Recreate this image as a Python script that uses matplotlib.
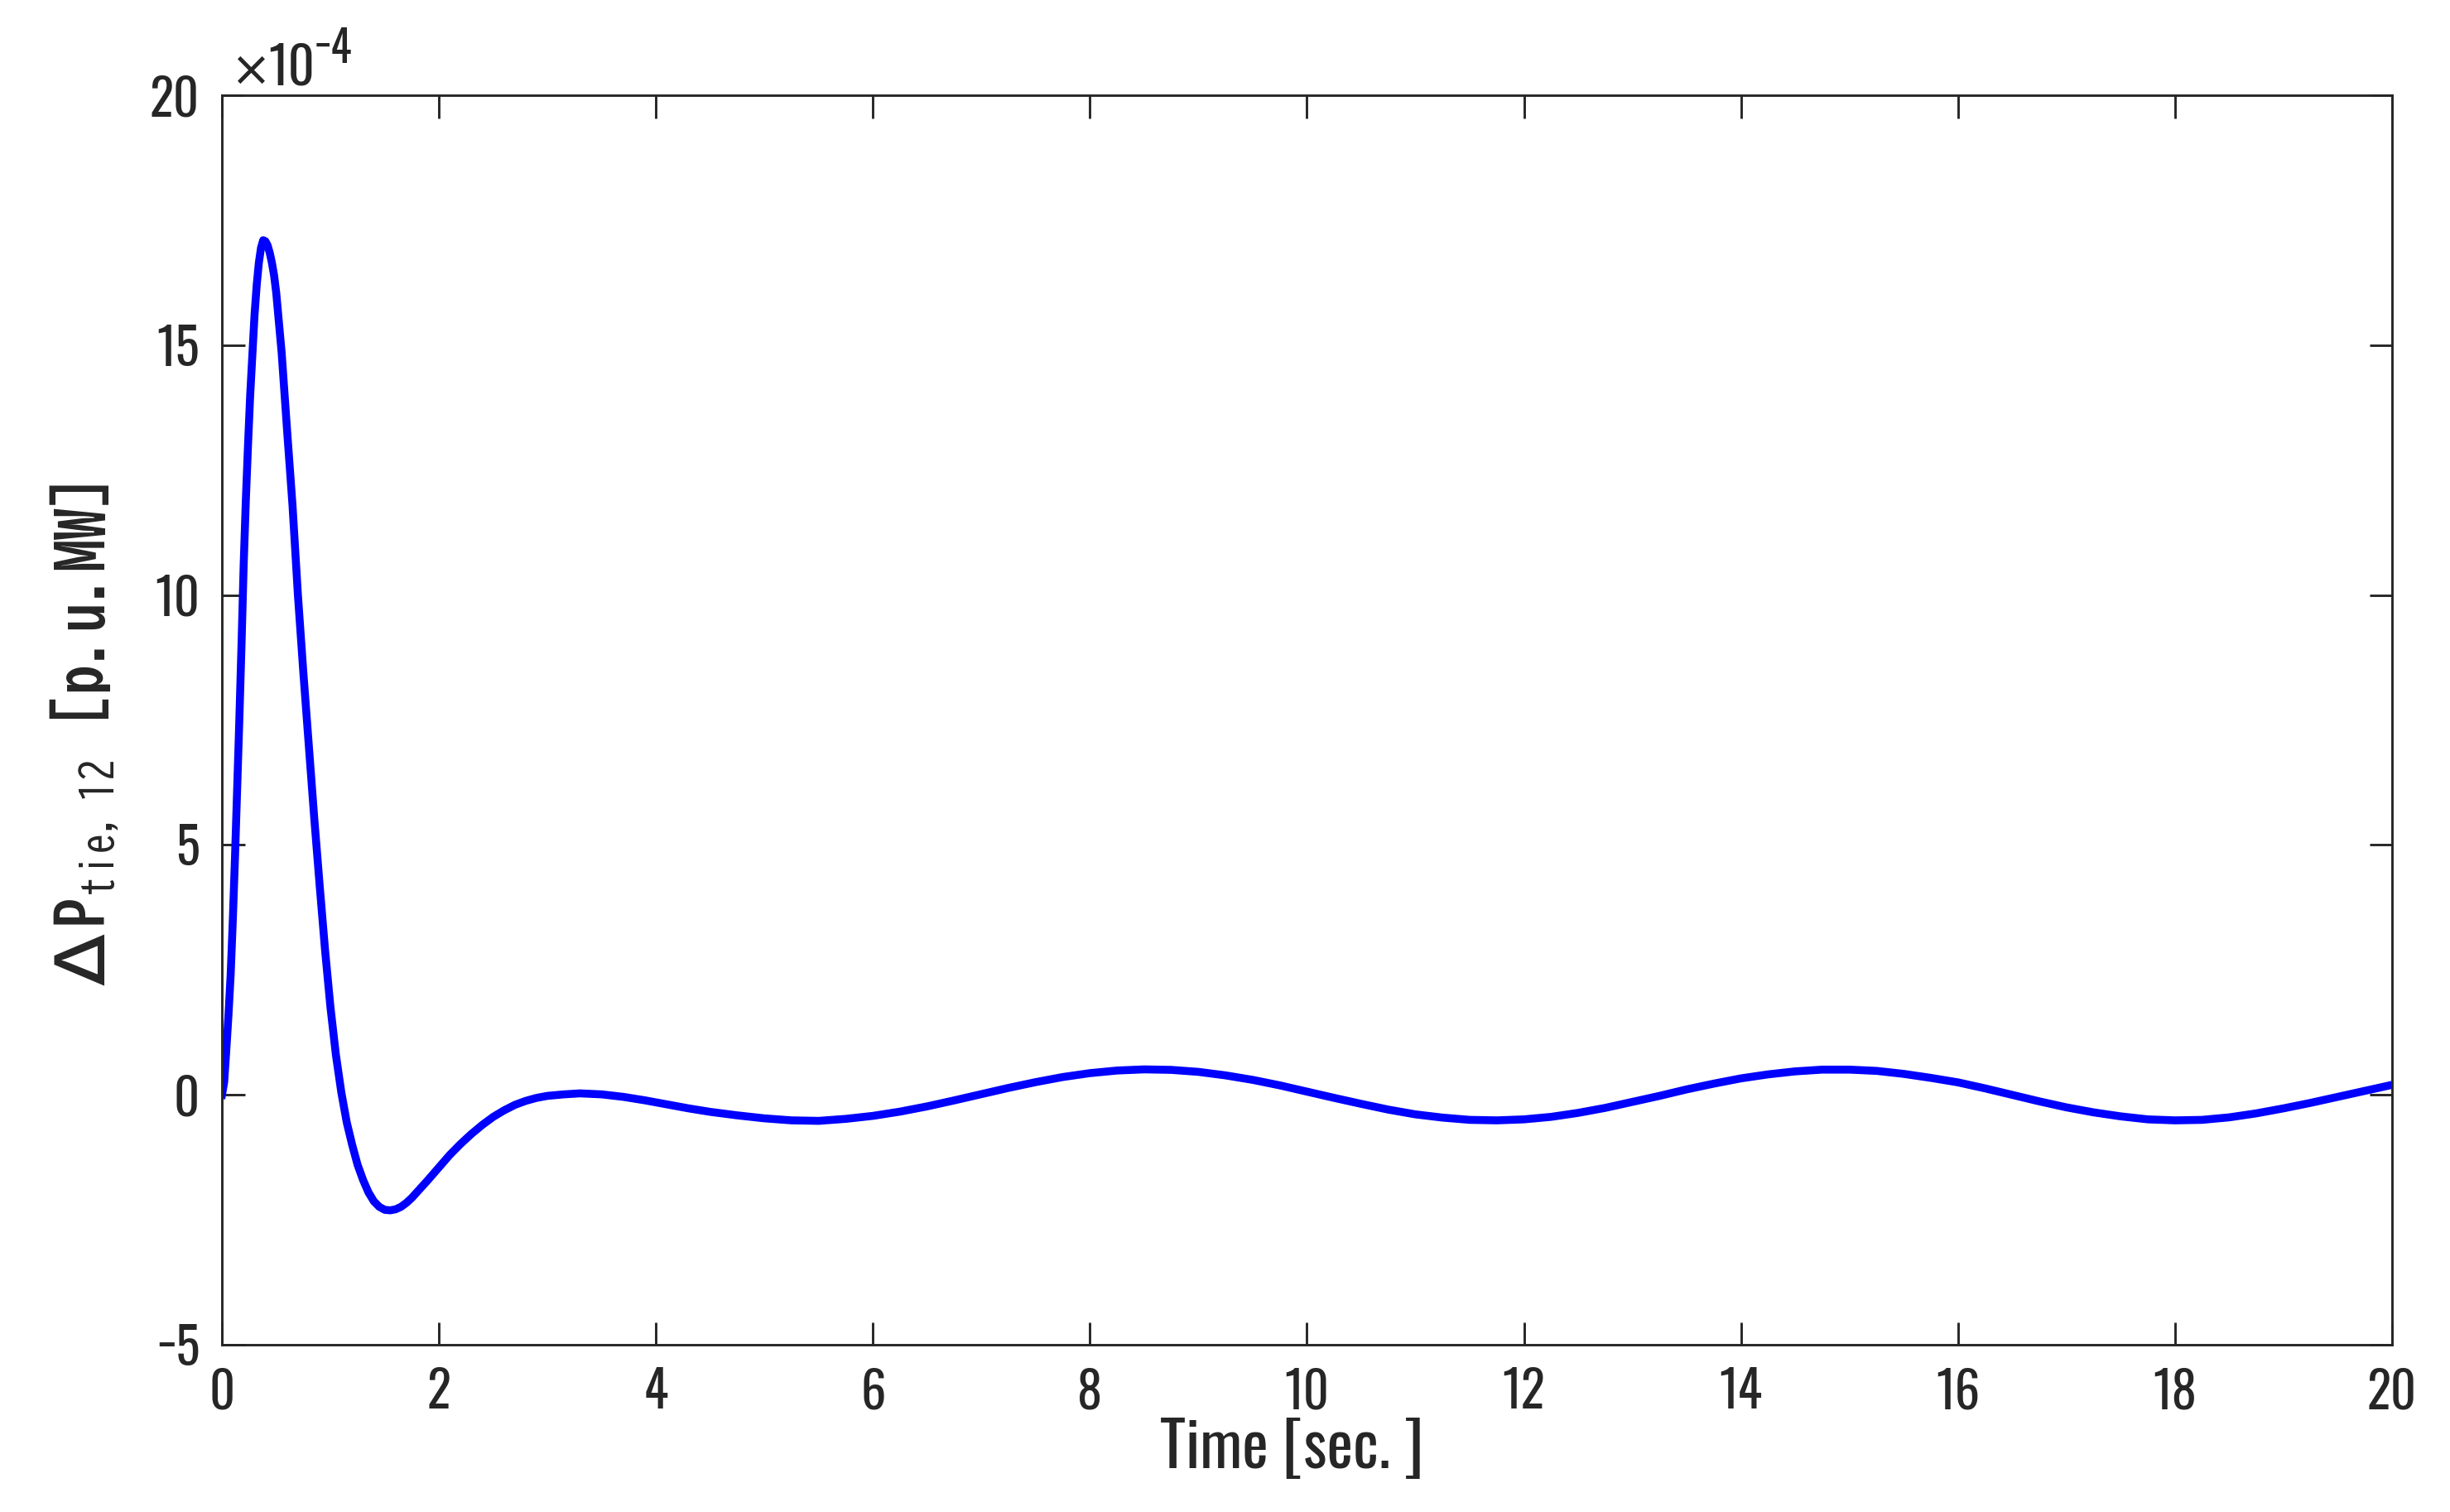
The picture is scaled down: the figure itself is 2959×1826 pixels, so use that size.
import matplotlib
matplotlib.use("Agg")
import matplotlib.pyplot as plt

# tie-line power deviation (units of 1e-4 p.u.MW)
time_s = [0.00, 0.02, 0.04, 0.06, 0.08, 0.10, 0.12, 0.14, 0.16, 0.18,
          0.20, 0.22, 0.24, 0.26, 0.28, 0.30, 0.32, 0.34, 0.36, 0.38,
          0.40, 0.42, 0.44, 0.46, 0.48, 0.50, 0.55, 0.60, 0.65, 0.70,
          0.75, 0.80, 0.85, 0.90, 0.95, 1.00, 1.05, 1.10, 1.15, 1.20,
          1.25, 1.30, 1.35, 1.40, 1.45, 1.50, 1.55, 1.60, 1.65, 1.70,
          1.75, 1.80, 1.90, 2.00, 2.10, 2.20, 2.30, 2.40, 2.50, 2.60,
          2.70, 2.80, 2.90, 3.00, 3.15, 3.30, 3.50, 3.70, 3.90, 4.10,
          4.30, 4.50, 4.75, 5.00, 5.25, 5.50, 5.75, 6.00, 6.25, 6.50,
          6.75, 7.00, 7.25, 7.50, 7.75, 8.00, 8.25, 8.50, 8.75, 9.00,
          9.25, 9.50, 9.75, 10.00, 10.25, 10.50, 10.75, 11.00, 11.25, 11.50,
          11.75, 12.00, 12.25, 12.50, 12.75, 13.00, 13.25, 13.50, 13.75, 14.00,
          14.25, 14.50, 14.75, 15.00, 15.25, 15.50, 15.75, 16.00, 16.25, 16.50,
          16.75, 17.00, 17.25, 17.50, 17.75, 18.00, 18.25, 18.50, 18.75, 19.00,
          19.25, 19.50, 19.75, 20.00]
dp_tie = [0.00, 0.25, 0.90, 1.60, 2.40, 3.50, 4.75, 6.10, 7.50, 9.00,
          10.60, 11.90, 13.00, 14.00, 14.80, 15.60, 16.20, 16.65, 16.95, 17.10,
          17.08, 17.00, 16.85, 16.65, 16.40, 16.05, 14.85, 13.30, 11.80, 10.00,
          8.45, 7.00, 5.55, 4.20, 2.90, 1.75, 0.80, 0.05, -0.55, -1.00,
          -1.40, -1.70, -1.95, -2.13, -2.24, -2.30, -2.31, -2.29, -2.24, -2.16,
          -2.06, -1.94, -1.70, -1.45, -1.20, -0.98, -0.78, -0.60, -0.44, -0.31,
          -0.20, -0.12, -0.06, -0.02, 0.01, 0.03, 0.01, -0.04, -0.11, -0.19,
          -0.27, -0.34, -0.41, -0.47, -0.51, -0.52, -0.48, -0.42, -0.335, -0.23,
          -0.11, 0.015, 0.14, 0.255, 0.357, 0.435, 0.487, 0.51, 0.50, 0.46,
          0.39, 0.30, 0.19, 0.065, -0.06, -0.18, -0.295, -0.39, -0.455, -0.50,
          -0.51, -0.49, -0.44, -0.36, -0.26, -0.14, -0.02, 0.11, 0.225, 0.33,
          0.41, 0.47, 0.505, 0.505, 0.48, 0.42, 0.34, 0.25, 0.13, 0.00,
          -0.13, -0.25, -0.35, -0.43, -0.49, -0.51, -0.50, -0.45, -0.37, -0.27,
          -0.16, -0.04, 0.08, 0.20]

x_ticks = [0, 2, 4, 6, 8, 10, 12, 14, 16, 18, 20]
y_ticks = [-5, 0, 5, 10, 15, 20]

dark = '#262626'
narrow = ['Oswald', 'DejaVu Sans']
gothic = ['BIZ UDGothic', 'DejaVu Sans']

plt.rcParams['mathtext.fontset'] = 'custom'
plt.rcParams['mathtext.rm'] = 'BIZ UDGothic'

fig = plt.figure(figsize=(2959 / 300, 1826 / 300), dpi=300)
ax = fig.add_axes([0.0906, 0.1106, 0.8857, 0.8264])

ax.plot(time_s, dp_tie, color='#0000ff', linewidth=2.3)

ax.set_xlim(0, 20)
ax.set_ylim(-5, 20)
ax.set_xticks(x_ticks)
ax.set_yticks(y_ticks)
ax.set_xticklabels([str(v) for v in x_ticks])
ax.set_yticklabels(['\u22125' if v < 0 else str(v) for v in y_ticks])

ax.tick_params(direction='in', length=6.6, width=0.7, colors=dark,
               top=True, right=True, labelsize=14.5)
ax.tick_params(axis='x', pad=6.5)
ax.tick_params(axis='y', pad=6.5)
for lab in ax.get_xticklabels() + ax.get_yticklabels():
    lab.set_family(narrow)
for sp in ax.spines.values():
    sp.set_color(dark)
    sp.set_linewidth(0.7)

ax.set_xlabel('Time [sec. ]', family=narrow, fontsize=18, color=dark)
ax.xaxis.set_label_coords(0.493, -0.058)
ax.set_ylabel(r'ΔP$_{\mathrm{tie,12}}$ [p.u.MW]', family=gothic,
              fontweight='bold', fontsize=18, color=dark)
ax.yaxis.set_label_coords(-0.047, 0.486)

# MATLAB-style exponent above the y axis
ax.text(0.004, 1.008, '\u00d7', transform=ax.transAxes,
        family=['DejaVu Sans'], fontsize=14, color=dark, va='baseline', ha='left')
ax.text(0.0215, 1.008, '10', transform=ax.transAxes,
        family=narrow, fontsize=15, color=dark, va='baseline', ha='left')
ax.text(0.0425, 1.026, '\u22124', transform=ax.transAxes,
        family=narrow, fontsize=12.5, color=dark, va='baseline', ha='left')

fig.savefig('out.png', dpi=300)
